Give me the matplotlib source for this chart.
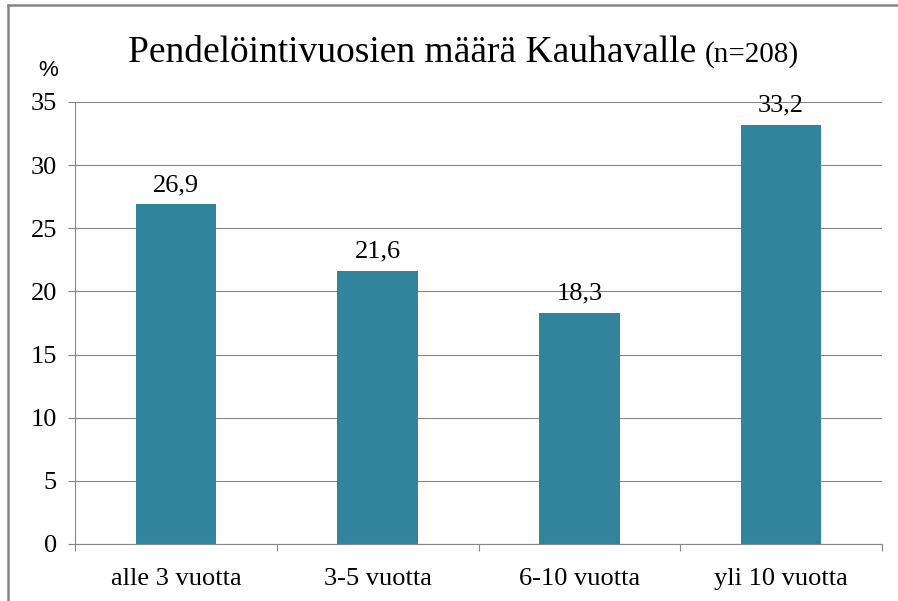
import matplotlib
matplotlib.use("Agg")
import matplotlib.pyplot as plt
from matplotlib.lines import Line2D

categories = ["alle 3 vuotta", "3-5 vuotta", "6-10 vuotta", "yli 10 vuotta"]
values = [26.9, 21.6, 18.3, 33.2]
value_labels = ["26,9", "21,6", "18,3", "33,2"]
y_ticks = [0, 5, 10, 15, 20, 25, 30, 35]
title_main = "Pendelöintivuosien määrä Kauhavalle"
title_sub = "(n=208)"
y_unit = "%"

W, H = 898, 601
DPI = 100
fig = plt.figure(figsize=(W / DPI, H / DPI), dpi=DPI)
fig.patch.set_facecolor("white")

def fx(px):
    return px / W

def fy(py):
    return 1 - py / H

serif = "Liberation Serif"
sans = "Liberation Sans"
grey = "#868686"
bar_color = "#31849B"

ax = fig.add_axes([fx(75), fy(544), fx(882) - fx(75), fy(102) - fy(544)])
x = list(range(len(categories)))
ax.bar(x, values, width=0.4, color=bar_color, zorder=3)

ax.set_xlim(-0.5, len(categories) - 0.5)
ax.set_ylim(0, 35)
ax.set_yticks(y_ticks)
ax.set_yticklabels([str(v) for v in y_ticks], family=serif, fontsize=19)
ax.set_xticks(x)
ax.set_xticklabels(categories, family=serif, fontsize=19)
ax.set_xticks([i - 0.5 for i in range(len(categories) + 1)], minor=True)
ax.tick_params(axis="x", which="major", length=0, pad=17)
ax.tick_params(axis="x", which="minor", length=5, width=0.8, color=grey, direction="out")
ax.tick_params(axis="y", length=5, width=0.8, color=grey, direction="out", pad=8)

ax.grid(axis="y", color=grey, linewidth=0.8, zorder=0)
ax.set_axisbelow(True)
for side in ["top", "right"]:
    ax.spines[side].set_visible(False)
for side in ["left", "bottom"]:
    ax.spines[side].set_color(grey)
    ax.spines[side].set_linewidth(0.8)
ax.spines["bottom"].set_zorder(4)

for xi, v, lab in zip(x, values, value_labels):
    ax.annotate(lab, xy=(xi, v), xytext=(0, 6), textcoords="offset points",
                ha="center", va="bottom", family=serif, fontsize=19, zorder=5)

t1 = fig.text(fx(128), fy(62), title_main, ha="left", va="baseline",
              family=serif, fontsize=27)
ax.annotate(title_sub, xy=(1, 0), xycoords=t1, xytext=(6, 1.5), textcoords="offset points",
            ha="left", va="bottom", family=serif, fontsize=21)

fig.text(fx(48), fy(71), y_unit, ha="center", va="center", family=sans, fontsize=16)

fig.add_artist(Line2D([fx(8), 1.0], [fy(5), fy(5)], color=grey, linewidth=1.8))
fig.add_artist(Line2D([fx(8), fx(8)], [fy(5), 0.0], color=grey, linewidth=1.8))

fig.savefig("out.png", dpi=DPI, facecolor="white")
